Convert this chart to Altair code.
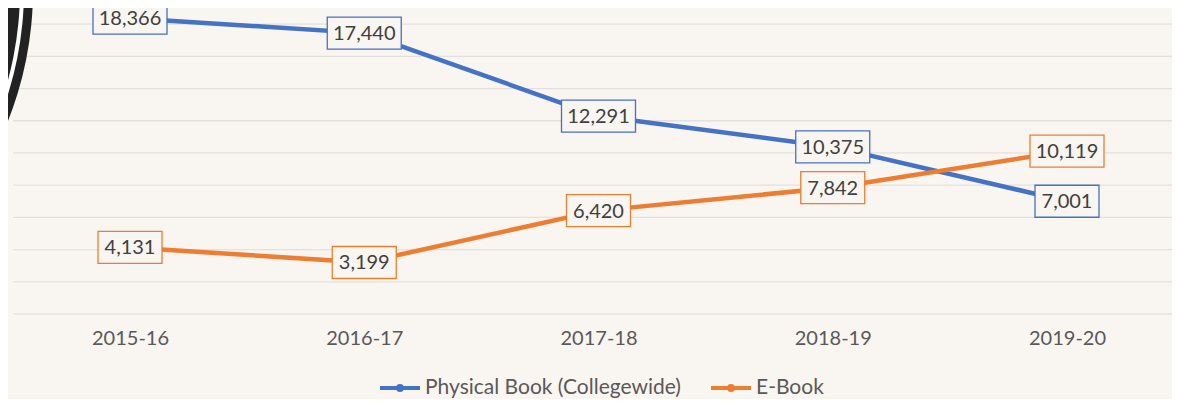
import altair as alt
import pandas as pd

years = ["2015-16", "2016-17", "2017-18", "2018-19", "2019-20"]
physical = [18366, 17440, 12291, 10375, 7001]
ebook = [4131, 3199, 6420, 7842, 10119]
series_names = ["Physical Book (Collegewide)", "E-Book"]
series_colors = ["#4472C4", "#ED7D31"]
grid_values = [0, 2000, 4000, 6000, 8000, 10000, 12000, 14000, 16000, 18000]

rows = []
for name, vals in zip(series_names, [physical, ebook]):
    for y, v in zip(years, vals):
        rows.append({"year": y, "series": name, "value": v})
df = pd.DataFrame(rows)
grid_df = pd.DataFrame({"g": grid_values})

BG = "#f9f5f1"
FONT = "Lato"
PLOT_W = 1159

x_scale = alt.Scale(type="point", range=[117, 1054], padding=0)
y_scale = alt.Scale(domain=[0, 19000], nice=False, zero=True)

x_enc = alt.X("year:O", sort=years, scale=x_scale,
              axis=alt.Axis(title=None, domain=False, ticks=False, grid=False,
                            labelAngle=0, labelFont=FONT, labelFontSize=20,
                            labelColor="#595959", labelPadding=14))
y_enc = alt.Y("value:Q", scale=y_scale, axis=None)
color_enc = alt.Color("series:N", scale=alt.Scale(domain=series_names, range=series_colors),
                      legend=alt.Legend(title=None, orient="none", direction="horizontal",
                                        legendX=365, legendY=358, padding=0,
                                        symbolType="M-1,0H1M-0.1,0A0.1,0.1 0 1,1 0.1,0A0.1,0.1 0 1,1 -0.1,0",
                                        symbolSize=1600, symbolStrokeWidth=4,
                                        labelFont=FONT, labelFontSize=21, labelColor="#595959",
                                        labelOffset=3, columnPadding=22, labelLimit=400))

grid = alt.Chart(grid_df).mark_rule(color="#e4e0dc", strokeWidth=1.3).encode(
    y=alt.Y("g:Q", scale=y_scale, axis=None),
    x=alt.value(0), x2=alt.value(PLOT_W),
)

base = alt.Chart(df)

lines = base.mark_line(strokeWidth=4.5).encode(x=x_enc, y=y_enc, color=color_enc)

stroke_enc = alt.Stroke("series:N", scale=alt.Scale(domain=series_names, range=series_colors), legend=None)

box_wide = base.transform_filter("datum.value >= 10000").mark_rect(
    fill=BG, strokeWidth=1.3, xOffset=-37, x2Offset=37, yOffset=-16, y2Offset=16
).encode(
    x=alt.X("year:O", sort=years), x2=alt.X2("year"),
    y="value:Q", y2=alt.Y2("value"),
    stroke=stroke_enc,
)
box_narrow = base.transform_filter("datum.value < 10000").mark_rect(
    fill=BG, strokeWidth=1.3, xOffset=-32, x2Offset=32, yOffset=-16, y2Offset=16
).encode(
    x=alt.X("year:O", sort=years), x2=alt.X2("year"),
    y="value:Q", y2=alt.Y2("value"),
    stroke=stroke_enc,
)

labels = base.mark_text(font=FONT, fontSize=20, color="#404040", align="center",
                        baseline="middle", dy=1).encode(
    x=alt.X("year:O", sort=years), y="value:Q", text=alt.Text("value:Q", format=",")
)

# decorative logo fragment at top-left
one = alt.Data(values=[{"k": 1}])
logo_layers = []
for r, col in [(356, "#222222"), (347, "#ffffff"), (343, "#222222"), (329, "#e6b800")]:
    logo_layers.append(
        alt.Chart(one).mark_arc(radius=r, theta=0, theta2=3.1416, fill=col).encode(
            x=alt.value(-336), y=alt.value(-18))
    )

chart = alt.layer(grid, *logo_layers, lines, box_wide, box_narrow, labels).properties(
    width=PLOT_W, height=306,
    background=BG,
    padding={"left": 5, "top": 0, "right": 0, "bottom": 85},
    autosize=alt.AutoSizeParams(type="none"),
).configure_view(stroke=None)

chart.save("out.html", embed_options={"renderer": "svg", "actions": False})
